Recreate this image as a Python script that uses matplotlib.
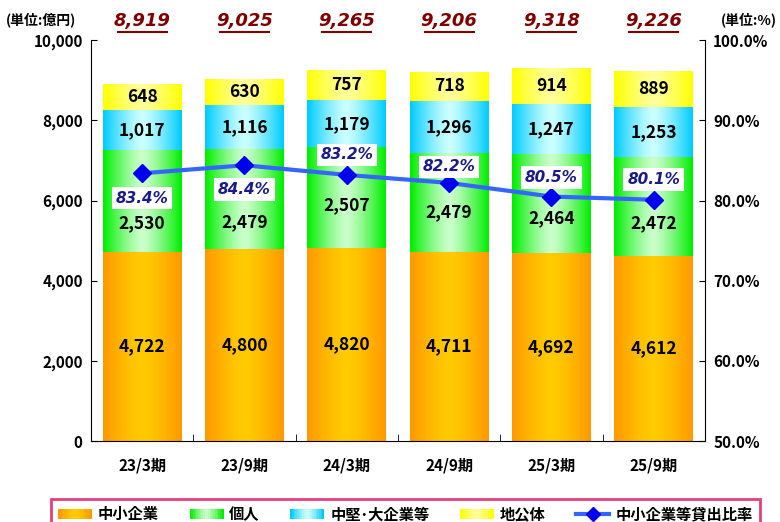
import numpy as np
import matplotlib.pyplot as plt
from matplotlib.colors import to_rgb
from matplotlib.patches import Rectangle
from matplotlib.lines import Line2D
from matplotlib.legend_handler import HandlerBase

plt.rcParams["font.family"] = ["Noto Sans CJK JP", "DejaVu Sans"]
plt.rcParams["font.weight"] = "bold"

periods = ["23/3期", "23/9期", "24/3期", "24/9期", "25/3期", "25/9期"]
sme = [4722, 4800, 4820, 4711, 4692, 4612]
individual = [2530, 2479, 2507, 2479, 2464, 2472]
mid_large = [1017, 1116, 1179, 1296, 1247, 1253]
local_gov = [648, 630, 757, 718, 914, 889]
totals = [8919, 9025, 9265, 9206, 9318, 9226]
sme_ratio = [83.4, 84.4, 83.2, 82.2, 80.5, 80.1]

series_names = ["中小企業", "個人", "中堅･大企業等", "地公体"]
# (edge colour, centre colour) of each horizontal gradient
grads = [("#ff9900", "#ffcc00"), ("#00ee00", "#ccffcc"),
         ("#00ccff", "#ccffff"), ("#ffff00", "#ffff99")]

# where the label sits inside each segment (fraction of its height), per series
label_pos = [[0.5] * 6,
             [0.28, 0.27, 0.42, 0.40, 0.35, 0.33],
             [0.5] * 6,
             [0.5] * 6]
# ratio labels: offset in % points from the marker
ratio_off = [-3.1, -3.0, 2.5, 2.0, 2.4, 2.5]


def grad_img(c_edge, c_mid, n=64):
    t = np.abs(np.linspace(-1, 1, n))[None, :, None]
    a, b = np.array(to_rgb(c_edge)), np.array(to_rgb(c_mid))
    return b + (a - b) * t ** 1.3


fig = plt.figure(figsize=(7.8, 5.22), dpi=100)
ax = fig.add_axes([0.1167, 0.155, 0.787, 0.768])
x = np.arange(len(periods))
width = 0.77

bottom = np.zeros(len(periods))
for k, (vals, (ce, cm)) in enumerate(zip([sme, individual, mid_large, local_gov], grads)):
    bars = ax.bar(x, vals, width, bottom=bottom, color=ce, edgecolor="none")
    img = grad_img(ce, cm)
    for j, (b, v) in enumerate(zip(bars, vals)):
        x0, y0 = b.get_x(), b.get_y()
        im = ax.imshow(img, extent=[x0, x0 + b.get_width(), y0, y0 + b.get_height()],
                       aspect="auto", interpolation="bicubic", zorder=2)
        im.set_clip_path(b)
        b.set_visible(False)
        ax.text(b.get_x() + b.get_width() / 2, y0 + b.get_height() * label_pos[k][j],
                f"{v:,}", ha="center", va="center", fontsize=12.5, color="black", zorder=4)
    bottom += np.array(vals)

ax.set_xlim(-0.5, len(periods) - 0.5)
ax.set_ylim(0, 10000)
ax.set_yticks(range(0, 10001, 2000))
ax.set_yticklabels([f"{v:,}" for v in range(0, 10001, 2000)], fontsize=11)
ax.set_xticks(x)
ax.set_xticklabels(periods, fontsize=11)
ax.set_xticks(np.arange(0.5, len(periods) - 0.5), minor=True)
ax.tick_params(axis="x", which="major", length=0, pad=12)
ax.tick_params(axis="x", which="minor", direction="in", length=5)
ax.tick_params(axis="y", direction="in", length=4, pad=6)
ax.spines["top"].set_visible(False)
ax.spines["right"].set_visible(False)
ax.set_aspect("auto")

ax2 = ax.twinx()
ax2.set_ylim(50, 100)
ax2.set_yticks(range(50, 101, 10))
ax2.set_yticklabels([f"{v:.1f}%" for v in range(50, 101, 10)], fontsize=11)
ax2.tick_params(axis="y", direction="in", length=4, pad=6)
for s in ["top", "left", "bottom"]:
    ax2.spines[s].set_visible(False)
ax2.plot(x, sme_ratio, color="#3366ff", linewidth=3, zorder=5,
         marker="D", markersize=9, markerfacecolor="#0000ee", markeredgecolor="#0000ee")
for i, r in enumerate(sme_ratio):
    ax2.text(x[i], r + ratio_off[i], f"{r:.1f}%", ha="center", va="center", fontsize=11,
             family="DejaVu Sans", style="italic", weight="bold", color="#1a1a8c", zorder=6,
             bbox=dict(boxstyle="square,pad=0.25", fc="white", ec="none"))

# totals above the bars
for i, t in enumerate(totals):
    ax.text(x[i], 1.047, f"{t:,}", transform=ax.get_xaxis_transform(), ha="center",
            va="center", fontsize=13, family="DejaVu Sans", style="italic",
            weight="bold", color="#800000")
    ax.plot([x[i] - 0.24, x[i] + 0.24], [1.02, 1.02], transform=ax.get_xaxis_transform(),
            color="#800000", linewidth=1.5, clip_on=False)

fig.text(0.008, 0.962, "(単位:億円)", fontsize=10, ha="left", va="center")
fig.text(0.996, 0.962, "(単位:%)", fontsize=10, ha="right", va="center")


class GradHandler(HandlerBase):
    def create_artists(self, legend, orig, xd, yd, w, h, fontsize, trans):
        img = grad_img(*orig.grad, n=20)[0]
        arts = []
        for i, c in enumerate(img):
            arts.append(Rectangle((-xd + w * i / 20, -yd), w / 20 + 0.3, h,
                                  fc=c, ec="none", transform=trans))
        return arts


handles = []
for g in grads:
    h = Rectangle((0, 0), 1, 1)
    h.grad = g
    handles.append(h)
line_h = Line2D([], [], color="#3366ff", linewidth=3, marker="D", markersize=7,
                markerfacecolor="#0000ee", markeredgecolor="#0000ee")
handles.append(line_h)
leg = fig.legend(handles, series_names + ["中小企業等貸出比率"], ncol=5,
                 loc="lower center", bbox_to_anchor=(0.52, -0.03), fontsize=11,
                 handler_map={Rectangle: GradHandler()}, frameon=True, fancybox=False,
                 handlelength=2.2, columnspacing=2.0, handletextpad=0.4,
                 borderpad=0.5)
leg.get_frame().set_edgecolor("#e0105a")
leg.get_frame().set_linewidth(2)

fig.savefig("out.png", dpi=100, facecolor="white")
